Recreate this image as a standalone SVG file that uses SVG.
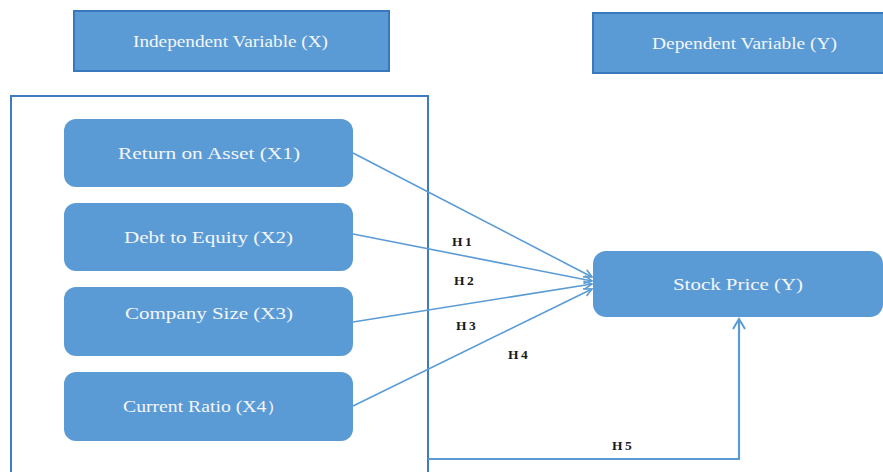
<svg xmlns="http://www.w3.org/2000/svg" width="883" height="472" viewBox="0 0 883 472">
<style>
.hdr{fill:#5b9bd5;stroke:#3a78bd;stroke-width:2}
.node{fill:#5b9bd5;stroke:none}
.frame{fill:none;stroke:#3d7cc0;stroke-width:2}
.t{font-family:"Liberation Serif","Times New Roman",serif;font-size:16px;fill:#f4f6fa;text-anchor:middle}
.h{font-family:"Liberation Serif","Times New Roman",serif;font-size:13.5px;font-weight:bold;fill:#1a1a1a;letter-spacing:2.5px}
.c{fill:none;stroke:#5b9bd5;stroke-width:1.6}
</style>
<defs>
<marker id="arr" viewBox="0 0 10 10" refX="9" refY="5" markerWidth="10" markerHeight="10" markerUnits="userSpaceOnUse" orient="auto">
<path d="M1,1 L9,5 L1,9" fill="none" stroke="#5b9bd5" stroke-width="1.6"/>
</marker>
<marker id="arr2" viewBox="0 0 14 14" refX="12" refY="7" markerWidth="14" markerHeight="14" markerUnits="userSpaceOnUse" orient="auto">
<path d="M2,1 L12,7 L2,13" fill="none" stroke="#5b9bd5" stroke-width="2"/>
</marker>
</defs>
<rect width="883" height="472" fill="#ffffff"/>
<rect class="frame" x="11" y="96" width="417" height="390"/>
<g id="independent-header">
<rect class="hdr" x="74" y="11" width="315" height="60"/>
<text class="t" x="230.5" y="47" textLength="195" lengthAdjust="spacingAndGlyphs">Independent Variable (X)</text>
</g>
<g id="dependent-header">
<rect class="hdr" x="593" y="13" width="300" height="60"/>
<text class="t" x="744.5" y="49" textLength="185" lengthAdjust="spacingAndGlyphs">Dependent Variable (Y)</text>
</g>
<g id="x1">
<rect class="node" x="64" y="119" width="289" height="68" rx="12"/>
<text class="t" x="209" y="159" textLength="182" lengthAdjust="spacingAndGlyphs">Return on Asset (X1)</text>
</g>
<g id="x2">
<rect class="node" x="64" y="203" width="289" height="68" rx="12"/>
<text class="t" x="208.5" y="243" textLength="169" lengthAdjust="spacingAndGlyphs">Debt to Equity (X2)</text>
</g>
<g id="x3">
<rect class="node" x="64" y="287" width="289" height="69" rx="12"/>
<text class="t" x="209" y="319" textLength="168" lengthAdjust="spacingAndGlyphs">Company Size (X3)</text>
</g>
<g id="x4">
<rect class="node" x="64" y="372" width="289" height="69" rx="12"/>
<text class="t" x="204.5" y="412" textLength="163" lengthAdjust="spacingAndGlyphs">Current Ratio (X4）</text>
</g>
<g id="y">
<rect class="node" x="593" y="251" width="290" height="66" rx="13"/>
<text class="t" x="738" y="290" textLength="130" lengthAdjust="spacingAndGlyphs">Stock Price (Y)</text>
</g>
<g id="connectors">
<line class="c" x1="353" y1="153" x2="592" y2="277" marker-end="url(#arr)"/>
<line class="c" x1="353" y1="234" x2="592" y2="281" marker-end="url(#arr)"/>
<line class="c" x1="353" y1="322" x2="592" y2="284" marker-end="url(#arr)"/>
<line class="c" x1="353" y1="406" x2="592" y2="289" marker-end="url(#arr)"/>
<polyline fill="none" stroke="#5b9bd5" stroke-width="2.2" points="428,459 739,459 739,319" marker-end="url(#arr2)"/>
</g>
<g id="labels">
<text class="h" x="452" y="246">H1</text>
<text class="h" x="454" y="285">H2</text>
<text class="h" x="456" y="330">H3</text>
<text class="h" x="508" y="359">H4</text>
<text class="h" x="612" y="450">H5</text>
</g>
</svg>
